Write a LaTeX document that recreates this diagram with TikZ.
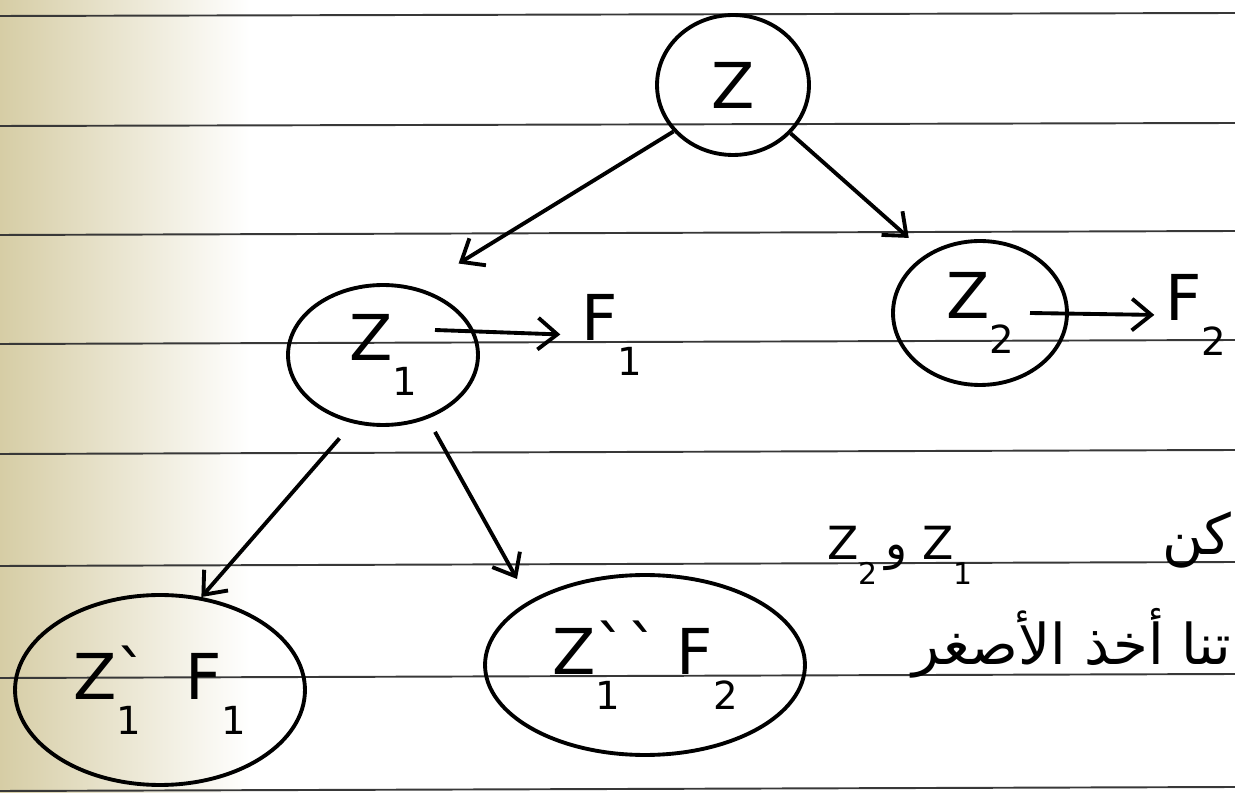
\documentclass[tikz,border=0pt]{standalone}
\usepackage{fontspec}
\setmainfont{DejaVu Sans}
\newfontfamily\arabicfont[Script=Arabic]{DejaVu Sans}
\TeXXeTstate=1
\usetikzlibrary{shapes.geometric,arrows.meta,calc}
\newcommand{\lo}[2][22]{\raisebox{-0.55em}{\fontsize{#1}{#1}\selectfont #2}}
\newcommand{\gv}[1]{\rlap{\raisebox{0.05em}{#1}}}
\begin{document}
\begin{tikzpicture}[x=0.02cm,y=-0.02cm,
  ink/.style={line width=2.2pt, black},
  bub/.style={ellipse, draw, ink, inner sep=0pt, font=\fontsize{36}{40}\selectfont},
  lab/.style={font=\fontsize{36}{40}\selectfont},
  arr/.style={ink, -{Straight Barb[length=11pt,width=18pt,line width=2.2pt]}},
  ruled/.style={line width=1.1pt, black!78},
  ar/.style={font=\arabicfont\fontsize{32}{36}\selectfont, inner sep=0pt}
]
\useasboundingbox (0,0) rectangle (1235,793);
\clip (0,0) rectangle (1235,793);
\fill[white] (0,0) rectangle (1235,793);
\shade[left color={rgb,255:red,214;green,205;blue,165}, right color=white] (0,0) rectangle (250,793);
\foreach \yl/\yr in {16/13,126/123,235/231,344/340,454/450,566/562,678/674,791/787}
  \draw[ruled] (0,\yl) -- (1235,\yr);

% nodes
\node[bub, minimum width=3.04cm, minimum height=2.8cm] (Z) at (733,85) {Z};
\node[bub, minimum width=3.8cm, minimum height=2.8cm] (Z1) at (383,355) {Z\lo{1}};
\node[bub, minimum width=3.48cm, minimum height=2.88cm] (Z2) at (980,313) {Z\lo{2}};
\node[bub, minimum width=5.8cm, minimum height=3.8cm] (L) at (160,690) {Z\gv{ˋ}\lo{1}\hspace{0.7em}F\lo{1}};
\node[bub, minimum width=6.4cm, minimum height=3.6cm] (R) at (645,665) {Z\gv{ˋˋ}\lo{1}\hspace{0.9em}F\lo{2}};
\node[lab] (F1) at (612,335) {F\lo{1}};
\node[lab] (F2) at (1196,315) {F\lo{2}};

% connectors
\draw[arr, shorten >=0.94cm] (Z.218) -- (Z1.62);
\draw[arr, shorten >=0.48cm] (Z.320) -- (Z2.132);
\draw[arr, shorten <=0.4cm] (Z1.246) -- (L.66);
\draw[arr, shorten <=0.3cm, shorten >=0.5cm] (Z1.305) -- (R.151);
\draw[arr, shorten >=0.3cm] ($(Z1.center)+(52,-25)$) -- (F1.west);
\draw[arr, shorten >=0.1cm] ($(Z2.center)+(50,0)$) -- (F2.west);

% Arabic note
\node[ar, anchor=east] (ar1) at (1232,540) {\beginR كن\endR};
\node[font=\fontsize{26}{28}\selectfont, inner sep=0pt] (zz) at (900,555) {Z\lo[17]{2}\,{\arabicfont و}\,\,Z\lo[17]{1}};
\node[ar, anchor=east] (ar2) at (1232,643) {\beginR تنا أخذ الأصغر\endR};
\end{tikzpicture}
\end{document}
